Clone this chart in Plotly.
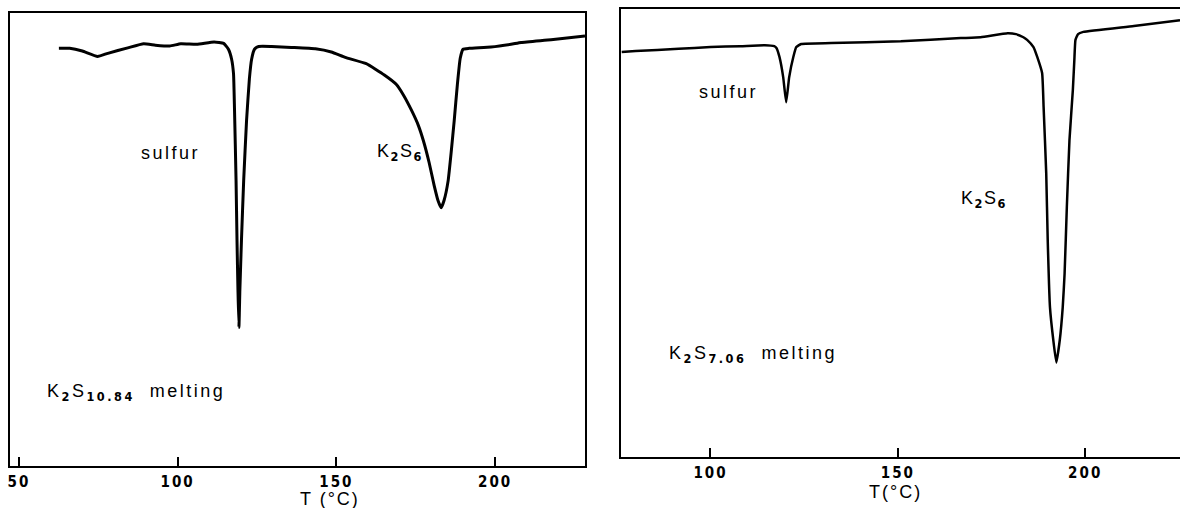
import plotly.graph_objects as go

# ---------------- data ----------------
# Left trace: K2S10.84 melting (DSC signal, arbitrary units, 0-100 scale)
t_left = [62.6, 66, 70, 74.8, 78, 84.3, 89.3, 93, 97.5, 101, 106, 111.5, 114.5, 116.0,
          117.0, 117.6, 117.9, 118.4, 118.7, 119.0, 119.3, 119.6, 120.1, 120.8, 121.7,
          122.6, 123.3, 124.2, 125.5, 129.6, 135.8, 143.4, 148.4, 152.8, 159.4, 165.1,
          168.9, 171.1, 173.6, 175.8, 177.4, 179.2, 180.8, 182.0, 183.0, 183.9, 185.2,
          186.2, 187.1, 188.1, 189.0, 189.9, 191.8, 198.7, 205.0, 208.2, 217.6, 228.3]
s_left = [92.2, 92.2, 91.6, 90.4, 91.1, 92.3, 93.2, 92.9, 92.7, 93.2, 93.1, 93.6, 93.3, 92.0,
          89.8, 86.6, 79.1, 63.0, 49.8, 38.8, 30.6, 38.8, 49.8, 63.0, 76.2,
          85.5, 89.8, 92.0, 92.6, 92.6, 92.4, 92.1, 91.4, 90.2, 88.8, 86.3,
          84.2, 81.9, 78.6, 75.2, 71.8, 67.0, 61.9, 58.6, 57.0, 58.6, 63.0,
          69.6, 76.2, 84.2, 90.0, 92.0, 92.2, 92.5, 93.1, 93.5, 94.1, 94.9]

# Right trace: K2S7.06 melting
t_right = [76.3, 80, 91.5, 100, 108, 114.5, 117.0, 117.6, 118.4, 119.4, 120.2, 121.0, 122.1,
           122.9, 124.2, 132.2, 150.8, 166.8, 172.1, 179.3, 181.5, 183.5, 184.5, 186.2,
           187.2, 188.5, 188.9, 189.6, 190.0, 190.6, 191.5, 192.3, 193.2, 194.0, 194.5,
           195.1, 195.8, 196.7, 197.1, 197.4, 198.1, 199.5, 213.0, 225.3]
s_right = [90.4, 90.6, 91.1, 91.5, 91.7, 91.9, 91.7, 91.3, 89.3, 84.8, 79.2, 84.8, 89.3,
           91.5, 92.2, 92.4, 92.8, 93.5, 93.7, 94.6, 94.4, 93.7, 93.1, 91.5,
           89.3, 85.7, 78.1, 63.3, 48.3, 33.4, 26.0, 21.1, 26.0, 33.4, 40.9,
           55.8, 70.7, 81.9, 88.6, 93.1, 94.4, 94.9, 96.2, 97.5]

ticks_left = [50, 100, 150, 200]
ticks_right = [100, 150, 200]

# ---------------- styling ----------------
BODY = "Liberation Sans, Arial, Helvetica, sans-serif"
NARROW = "Liberation Sans Narrow, DejaVu Sans Condensed, sans-serif"


def spaced(txt, ls=3):
    return f'<span style="letter-spacing:{ls}px">{txt}</span>'


def sub_b(txt):
    return f'<sub><span style="font-family:{NARROW};font-weight:bold">{txt}</span></sub>'


def tick_text(v):
    return f'<span style="letter-spacing:2px">{v}</span>'


fig = go.Figure()
fig.add_trace(go.Scatter(x=t_left, y=s_left, mode="lines",
                         line=dict(color="black", width=3, shape="spline", smoothing=0.4),
                         xaxis="x", yaxis="y", showlegend=False, hoverinfo="skip"))
fig.add_trace(go.Scatter(x=t_right, y=s_right, mode="lines",
                         line=dict(color="black", width=2.5, shape="spline", smoothing=0.4),
                         xaxis="x2", yaxis="y2", showlegend=False, hoverinfo="skip"))

W, H = 1180, 508
axis_common = dict(showgrid=False, zeroline=False, linecolor="black", linewidth=2)
tickfont = dict(family=NARROW, size=15, color="black", weight="bold")

fig.update_layout(
    width=W, height=H, autosize=False,
    margin=dict(l=0, r=0, t=0, b=0),
    paper_bgcolor="white", plot_bgcolor="white",
    font=dict(family=BODY, color="black"),
    xaxis=dict(domain=[8 / W, 584 / W], range=[47.2, 228.3], anchor="y",
               showline=True, mirror=True, ticks="inside", ticklen=9,
               tickwidth=2, tickcolor="black",
               tickvals=ticks_left, ticktext=[tick_text(v) for v in ticks_left],
               tickfont=tickfont, ticklabelstandoff=1, **axis_common),
    yaxis=dict(domain=[1 - 466 / H, 1 - 13 / H], range=[0, 100], anchor="x",
               showline=True, mirror=True, ticks="", showticklabels=False,
               **axis_common),
    xaxis2=dict(domain=[620 / W, 1.0], range=[76.1, 225.3], anchor="y2",
                showline=True, mirror=True, ticks="inside", ticklen=9,
                tickwidth=2, tickcolor="black",
                tickvals=ticks_right, ticktext=[tick_text(v) for v in ticks_right],
                tickfont=tickfont, ticklabelstandoff=1, **axis_common),
    yaxis2=dict(domain=[1 - 457 / H, 1 - 9 / H], range=[0, 100], anchor="x2",
                showline=True, mirror=False, ticks="", showticklabels=False,
                **axis_common),
)

lab_font = dict(family=BODY, size=18, color="black")
annots = [
    # left panel
    dict(x=97.8, y=69.1, xref="x", yref="y", text=spaced("sulfur", 2.5), xanchor="center"),
    dict(x=170.1, y=69.1, xref="x", yref="y",
         text=spaced("K" + sub_b("2") + "S" + sub_b("6"), 1.5), xanchor="center"),
    dict(x=58.2, y=16.3, xref="x", yref="y",
         text=spaced("K" + sub_b("2") + "S" + sub_b("10.84") + "  melting", 2.5), xanchor="left"),
    # right panel
    dict(x=104.8, y=81.5, xref="x2", yref="y2", text=spaced("sulfur", 2.5), xanchor="center"),
    dict(x=172.9, y=57.4, xref="x2", yref="y2",
         text=spaced("K" + sub_b("2") + "S" + sub_b("6"), 1.5), xanchor="center"),
    dict(x=88.3, y=22.8, xref="x2", yref="y2",
         text=spaced("K" + sub_b("2") + "S" + sub_b("7.06") + "  melting", 2.5), xanchor="left"),
    # axis titles
    dict(x=329 / W, y=1 - 499 / H, xref="paper", yref="paper",
         text=spaced("T (°C)", 2), xanchor="center", yanchor="middle"),
    dict(x=895 / W, y=1 - 492 / H, xref="paper", yref="paper",
         text=spaced("T(°C)", 2), xanchor="center", yanchor="middle"),
]
for a in annots:
    a.setdefault("yanchor", "middle")
    a.update(showarrow=False, font=lab_font)
    fig.add_annotation(**a)

fig.write_html(
    "out.html",
    config={"displayModeBar": False},
    post_script="document.body.style.margin='0px';document.body.style.padding='0px';"
                "document.documentElement.style.overflow='hidden';",
)
